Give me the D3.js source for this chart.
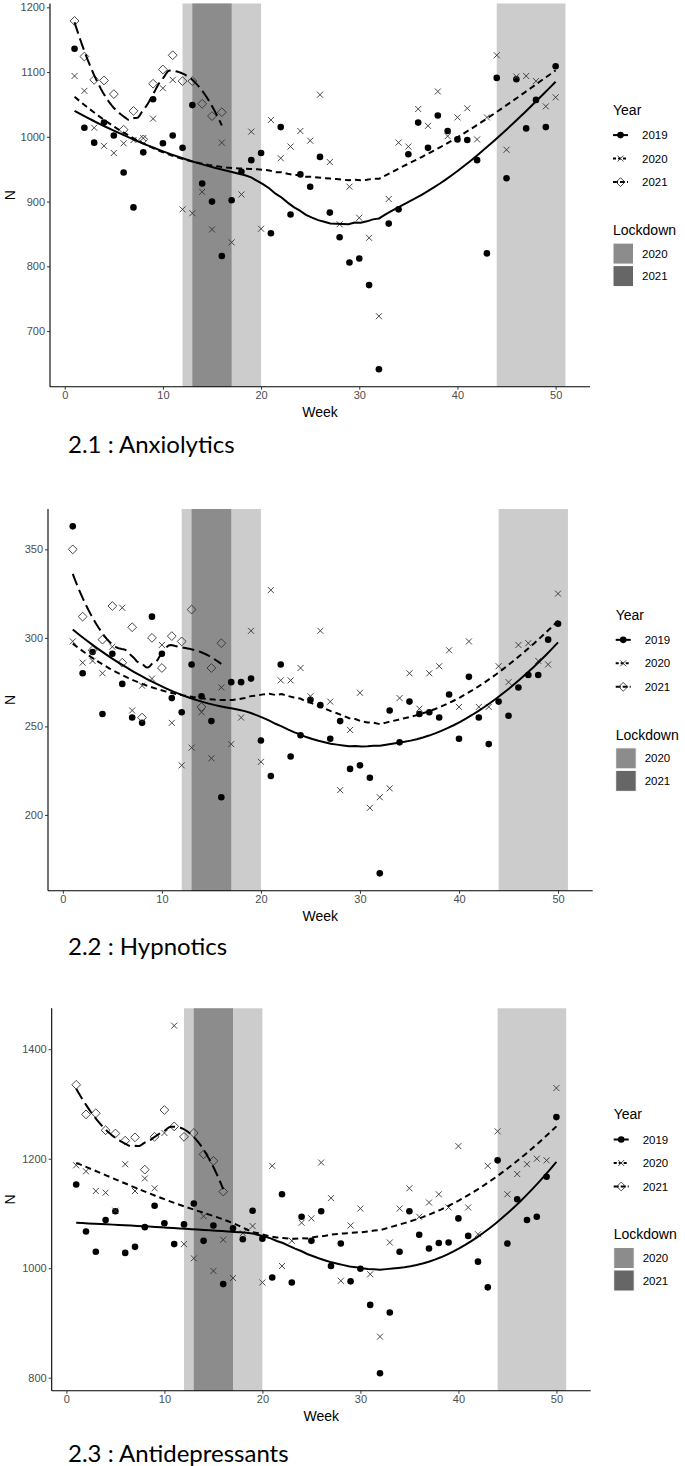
<!DOCTYPE html>
<html><head><meta charset="utf-8">
<script src="https://cdn.jsdelivr.net/npm/d3@7/dist/d3.min.js"></script>
<style>body{margin:0;background:#fff}svg{display:block}</style>
</head><body>
<svg id="chart" width="685" height="1466"></svg>
<script>
// ---------- data ----------
const weeks = [1,2,3,4,5,6,7,8,9,10,11,12,13,14,15,16,17,18,19,20,21,22,23,24,25,26,27,28,29,30,31,32,33,34,35,36,37,38,39,40,41,42,43,44,45,46,47,48,49,50];
const weeks2021 = [1,2,3,4,5,6,7,8,9,10,11,12,13,14,15,16];

const anx2019 = [1136,1014,991,1022,1002,945,891,976,1058,990,1002,983,1049,928,900,816,902,946,964,975,851,1015,880,942,923,969,883,845,806,812,771,641,866,888,973,1022,983,1033,1009,996,995,964,820,1091,936,1089,1013,1057,1015,1109];
const anx2020 = [1094,1071,1014,986,975,990,995,998,1028,1075,1088,888,882,915,857,991,837,911,1008,858,1026,967,985,1009,994,1065,961,865,923,875,844,723,904,991,985,1043,1017,1070,1001,1030,1044,996,1030,1126,980,1093,1094,1086,1047,1061];
const anx2021 = [1179,1124,1088,1087,1066,1011,1040,996,1082,1104,1126,1086,1086,1051,1032,1038];

const hyp2019 = [363,280,292,257,291,274,255,252,312,291,266,258,285,267,253,210,275,275,277,242,222,285,233,245,265,262,243,253,226,228,221,167,259,241,264,257,258,255,268,243,278,255,240,264,256,272,279,279,299,308];
const hyp2020 = [298,286,287,280,295,317,259,273,277,296,252,228,238,258,232,272,240,255,304,230,327,276,276,283,267,304,264,214,248,269,204,210,215,266,280,260,280,284,293,261,298,261,261,284,275,296,297,287,285,325];
const hyp2021 = [350,312,293,299,318,286,306,255,300,283,301,298,316,261,283,297];

const ad2019 = [1153,1067,1030,1088,1104,1028,1039,1075,1114,1082,1044,1080,1118,1050,1078,971,1073,1053,1105,1054,983,1135,974,1094,1050,1104,1004,1045,976,999,933,808,919,1030,1104,1061,1036,1046,1047,1091,1059,1012,965,1197,1045,1126,1088,1094,1167,1276];
const ad2020 = [1188,1177,1141,1138,1105,1190,1141,1164,1146,1247,1443,1044,1018,1095,995,1052,982,1064,1077,974,1187,1004,1050,1083,1091,1193,1128,977,1078,1109,989,875,1047,1109,1146,1094,1120,1135,1111,1223,1111,1062,1187,1250,1135,1172,1190,1200,1197,1329];
const ad2021 = [1335,1281,1283,1252,1246,1233,1239,1180,1240,1289,1259,1240,1247,1208,1196,1140];

const lock2020Start = [12, 44];
const lock2020End = [20, 51];
const lock2021Start = [13];
const lock2021End = [17];

const xTickValues = [0,10,20,30,40,50];
const anxTicks = [700,800,900,1000,1100,1200];
const hypTicks = [200,250,300,350];
const adTicks = [800,1000,1200,1400];

const yearLabels = ["2019","2020","2021"];
const lockLabels = ["2020","2021"];
const titles = ["2.1 : Anxiolytics","2.2 : Hypnotics","2.3 : Antidepressants"];

// ---------- helpers ----------
function loess(xs, ys, x0s, span) {
  const n = xs.length, q = Math.floor(n * span);
  return x0s.map(x0 => {
    const d = xs.map(x => Math.abs(x - x0));
    const h = d.slice().sort((a,b)=>a-b)[q-1] * 1.0000001;
    const S = [0,0,0,0,0], T = [0,0,0];
    for (let i = 0; i < n; i++) {
      const u = d[i] / h; if (u >= 1) continue;
      const w = Math.pow(1 - u*u*u, 3), dx = xs[i] - x0;
      let p = 1;
      for (let k = 0; k < 5; k++) { S[k] += w*p; if (k < 3) T[k] += w*p*ys[i]; p *= dx; }
    }
    const det3 = m => m[0][0]*(m[1][1]*m[2][2]-m[1][2]*m[2][1]) - m[0][1]*(m[1][0]*m[2][2]-m[1][2]*m[2][0]) + m[0][2]*(m[1][0]*m[2][1]-m[1][1]*m[2][0]);
    const A = [[S[0],S[1],S[2]],[S[1],S[2],S[3]],[S[2],S[3],S[4]]];
    const A0 = [[T[0],S[1],S[2]],[T[1],S[2],S[3]],[T[2],S[3],S[4]]];
    return det3(A0) / det3(A);
  });
}

const svg = d3.select("#chart");
const dashes = {"2019": null, "2020": "6,4", "2021": "12,5"};
const ptColor = "#333";
const AX_FONT = "'Liberation Sans', Arial, sans-serif";

function symbol(g, year, x, y) {
  if (year === "2019") {
    g.append("circle").attr("cx", x).attr("cy", y).attr("r", 3.3).attr("fill", "#000");
  } else if (year === "2020") {
    g.append("path").attr("d", `M${x-3},${y-3}L${x+3},${y+3}M${x-3},${y+3}L${x+3},${y-3}`)
      .attr("stroke", ptColor).attr("stroke-width", 0.9).attr("fill", "none");
  } else {
    g.append("path").attr("d", `M${x},${y-4.4}L${x+4.4},${y}L${x},${y+4.4}L${x-4.4},${y}Z`)
      .attr("stroke", ptColor).attr("stroke-width", 0.9).attr("fill", "none");
  }
}

function panel(cfg) {
  const {left, right, top, bottom, series, yTicks, title, titleY} = cfg;
  const g = svg.append("g");
  const allX = weeks.concat(lock2020End);
  const allY = series.flatMap(s => s.values);
  const [x0, x1] = d3.extent(allX), [y0, y1] = d3.extent(allY);
  const ex = (x1 - x0) * 0.05, ey = (y1 - y0) * 0.05;
  const x = d3.scaleLinear().domain([x0 - ex, x1 + ex]).range([left, right]);
  const y = d3.scaleLinear().domain([y0 - ey, y1 + ey]).range([bottom, top]);

  // lockdown shading
  lock2020Start.forEach((s, i) => {
    g.append("rect").attr("x", x(s)).attr("y", top).attr("width", x(lock2020End[i]) - x(s))
      .attr("height", bottom - top).attr("fill", "#cccccc");
  });
  lock2021Start.forEach((s, i) => {
    g.append("rect").attr("x", x(s)).attr("y", top).attr("width", x(lock2021End[i]) - x(s))
      .attr("height", bottom - top).attr("fill", "#8c8c8c");
  });

  // points
  series.forEach(s => {
    s.weeks.forEach((w, i) => symbol(g, s.year, x(w), y(s.values[i])));
  });

  // smooth lines (loess, span 0.75, degree 2)
  series.forEach(s => {
    const [a, b] = d3.extent(s.weeks);
    const grid = d3.range(80).map(i => a + (b - a) * i / 79);
    const fit = loess(s.weeks, s.values, grid, 0.75);
    const line = d3.line().x(d => x(d[0])).y(d => y(d[1]));
    g.append("path").datum(grid.map((gx, i) => [gx, fit[i]]))
      .attr("d", line).attr("fill", "none").attr("stroke", "#000").attr("stroke-width", 2)
      .attr("stroke-dasharray", dashes[s.year]);
  });

  // axes
  const xa = g.append("g").attr("transform", `translate(0,${bottom})`)
    .call(d3.axisBottom(x).tickValues(xTickValues).tickFormat(d3.format("d")).tickSize(3).tickPadding(2).tickSizeOuter(0));
  const ya = g.append("g").attr("transform", `translate(${left},0)`)
    .call(d3.axisLeft(y).tickValues(yTicks).tickFormat(d3.format("d")).tickSize(3).tickPadding(2).tickSizeOuter(0));
  [xa, ya].forEach(a => {
    a.attr("font-family", null).attr("font-size", null);
    a.select(".domain").attr("stroke", "#000").attr("stroke-width", 1.1);
    a.selectAll(".tick line").attr("stroke", "#333");
    a.selectAll(".tick text").attr("fill", null).style("fill", "#4d4d4d").style("font-family", AX_FONT).style("font-size", "11px");
  });
  xa.select(".domain").attr("d", `M${left},0H${right}`);
  ya.select(".domain").attr("d", `M0,${top}V${bottom}`);

  g.append("text").attr("x", (left + right) / 2).attr("y", bottom + 30)
    .attr("text-anchor", "middle").style("font-family", AX_FONT)
    .style("font-size", "14px").text("Week");
  g.append("text").attr("transform", `translate(15,${(top + bottom) / 2}) rotate(-90)`)
    .attr("text-anchor", "middle").style("font-family", AX_FONT)
    .style("font-size", "14px").text("N");

  // legend
  const cy = (top + bottom) / 2, lx = right + 23;
  const lg = g.append("g").style("font-family", AX_FONT);
  lg.append("text").attr("x", lx).attr("y", cy - 85).attr("dy", "0.35em").style("font-size", "14px").text("Year");
  yearLabels.forEach((yr, i) => {
    const yy = cy - 60 + i * 23.5;
    lg.append("line").attr("x1", lx).attr("x2", lx + 15).attr("y1", yy).attr("y2", yy)
      .attr("stroke", "#000").attr("stroke-width", 2).attr("stroke-dasharray", yr === "2019" ? null : (yr === "2020" ? "3,2" : "5,2"));
    symbol(lg, yr, lx + 7.5, yy);
    lg.append("text").attr("x", lx + 29).attr("y", yy).attr("dy", "0.35em").style("font-size", "11.5px").text(yr);
  });
  lg.append("text").attr("x", lx).attr("y", cy + 35).attr("dy", "0.35em").style("font-size", "14px").text("Lockdown");
  const keyFill = {"2020": "#8c8c8c", "2021": "#666666"};
  lockLabels.forEach((lb, i) => {
    const yy = cy + 48 + i * 22.5;
    lg.append("rect").attr("x", lx).attr("y", yy).attr("width", 20.5).attr("height", 21)
      .attr("fill", keyFill[lb]).attr("stroke", "#fff").attr("stroke-width", 1);
    lg.append("text").attr("x", lx + 29).attr("y", yy + 10.5).attr("dy", "0.35em").style("font-size", "11.5px").text(lb);
  });

  // title
  g.append("text").attr("x", 68).attr("y", titleY).style("font-family", "Lato, Carlito, Calibri, sans-serif")
    .style("font-size", "24px").attr("fill", "#000").text(title);
}

panel({left: 50, right: 590, top: 3.5, bottom: 386.7, yTicks: anxTicks, title: titles[0], titleY: 452.5,
  series: [{year: "2019", weeks: weeks, values: anx2019}, {year: "2020", weeks: weeks, values: anx2020}, {year: "2021", weeks: weeks2021, values: anx2021}]});
panel({left: 48, right: 592.7, top: 509, bottom: 890.7, yTicks: hypTicks, title: titles[1], titleY: 955,
  series: [{year: "2019", weeks: weeks, values: hyp2019}, {year: "2020", weeks: weeks, values: hyp2020}, {year: "2021", weeks: weeks2021, values: hyp2021}]});
panel({left: 51.7, right: 590.7, top: 1008.3, bottom: 1390.7, yTicks: adTicks, title: titles[2], titleY: 1461.5,
  series: [{year: "2019", weeks: weeks, values: ad2019}, {year: "2020", weeks: weeks, values: ad2020}, {year: "2021", weeks: weeks2021, values: ad2021}]});
</script>
</body></html>
